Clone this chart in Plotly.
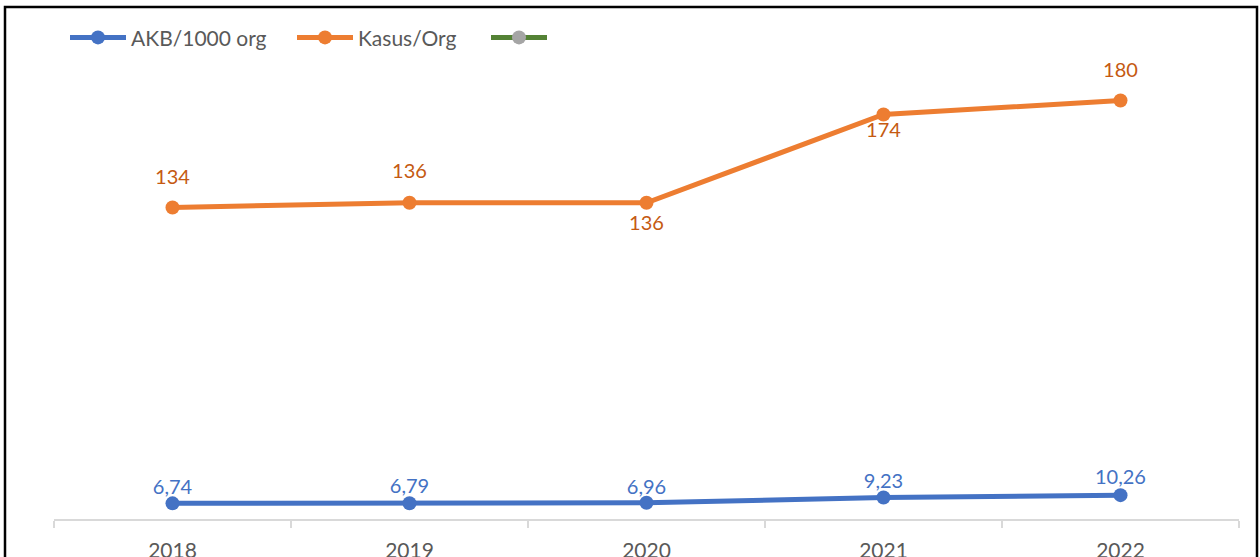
import plotly.graph_objects as go

years = ["2018", "2019", "2020", "2021", "2022"]
akb = [6.74, 6.79, 6.96, 9.23, 10.26]
kasus = [134, 136, 136, 174, 180]
akb_labels = ["6,74", "6,79", "6,96", "9,23", "10,26"]
kasus_labels = ["134", "136", "136", "174", "180"]

FONT = "Lato"
BLUE, ORANGE = "#4472C4", "#ED7D31"

# label placement: an invisible marker per point pushes the text away from the line
kasus_pos = ["top center", "top center", "bottom center", "bottom center", "top center"]
kasus_gap = [28, 30, 18, 10, 28]
akb_gap = [6, 6, 4, 6, 8]

fig = go.Figure()

fig.add_trace(go.Scatter(
    x=years, y=akb, name="AKB/1000 org", legend="legend",
    mode="lines+markers",
    line=dict(color=BLUE, width=5),
    marker=dict(size=14, color=BLUE),
))

fig.add_trace(go.Scatter(
    x=years, y=kasus, name="Kasus/Org", legend="legend2",
    mode="lines+markers",
    line=dict(color=ORANGE, width=5),
    marker=dict(size=14, color=ORANGE),
))

# empty third series, only shows in the legend
fig.add_trace(go.Scatter(
    x=years, y=[None] * len(years), name="", legend="legend3",
    mode="lines+markers",
    line=dict(color="#548235", width=5),
    marker=dict(size=14, color="#A5A5A5"),
))

# data labels
fig.add_trace(go.Scatter(
    x=years, y=akb, mode="markers+text", showlegend=False, hoverinfo="skip",
    marker=dict(size=akb_gap, opacity=0),
    text=akb_labels, textposition="top center",
    textfont=dict(color=BLUE, size=20, family=FONT),
))
fig.add_trace(go.Scatter(
    x=years, y=kasus, mode="markers+text", showlegend=False, hoverinfo="skip",
    marker=dict(size=kasus_gap, opacity=0),
    text=kasus_labels, textposition=kasus_pos,
    textfont=dict(color="#C55A11", size=20, family=FONT),
))


def px_x(p):
    return (p - 54) / 1185


leg = dict(orientation="h", xanchor="left", y=1.035, yanchor="middle",
           font=dict(size=21, color="#595959"), bgcolor="rgba(0,0,0,0)",
           itemwidth=56)

fig.update_layout(
    width=1260, height=557,
    margin=dict(l=54, r=21, t=54, b=38),
    plot_bgcolor="white", paper_bgcolor="white",
    font=dict(family=FONT, size=20, color="#595959"),
    showlegend=True,
    legend=dict(leg, x=px_x(65)),
    legend2=dict(leg, x=px_x(292)),
    legend3=dict(leg, x=px_x(486)),
    xaxis=dict(type="category", range=[-0.5, 4.5], showgrid=False, showline=True,
               automargin=False,
               linecolor="#D9D9D9", linewidth=2,
               ticks="outside", tickson="boundaries", ticklen=7,
               tickcolor="#D9D9D9", tickwidth=2, ticklabelstandoff=12,
               tickfont=dict(size=21, color="#595959")),
    yaxis=dict(range=[0, 200], visible=False),
    shapes=[dict(type="rect", xref="paper", yref="paper",
                 x0=px_x(5), x1=px_x(1257),
                 y0=-0.5, y1=(519 - 7) / 465,
                 line=dict(color="black", width=2.5))],
)

fig.write_html("out.html", config={"displayModeBar": False},
               post_script="document.body.style.margin='0';")
